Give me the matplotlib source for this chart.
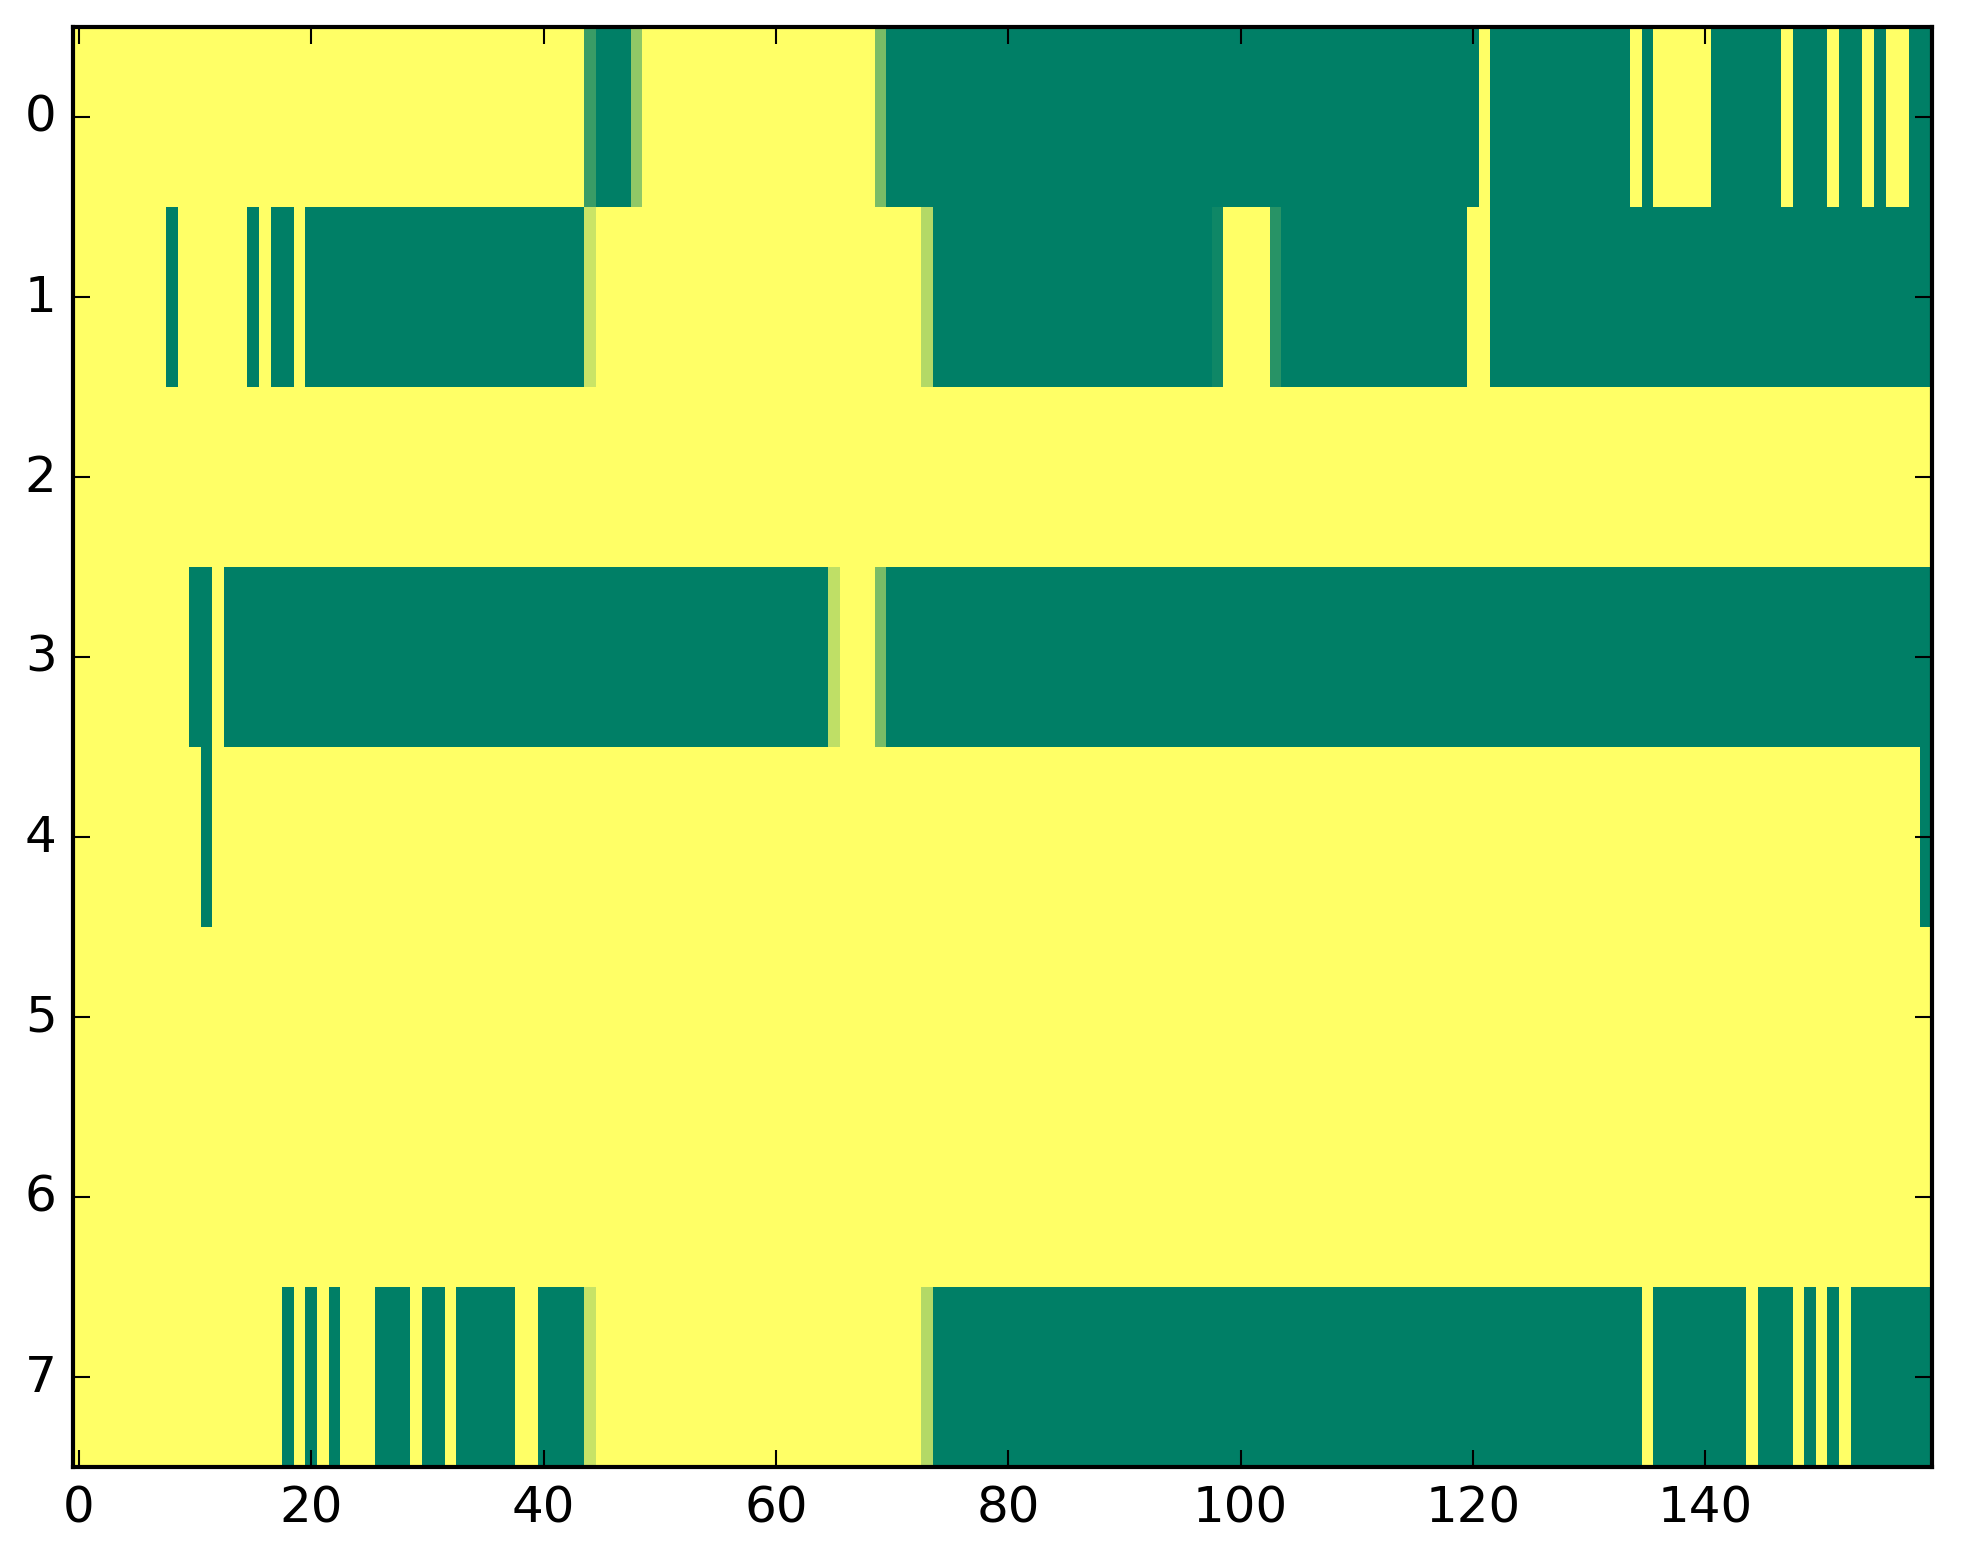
import numpy as np
import matplotlib
matplotlib.use('Agg')
import matplotlib.pyplot as plt

n_cols = 160
n_rows = 8

# each row: list of (first col, last col, value); everything else is 0
row0 = [(44, 44, 0.77), (45, 47, 1.0), (48, 48, 0.43), (69, 69, 0.52),
        (70, 120, 1.0), (122, 133, 1.0), (135, 135, 1.0), (141, 146, 1.0),
        (148, 150, 1.0), (152, 153, 1.0), (155, 155, 1.0), (158, 159, 1.0)]
row1 = [(8, 8, 1.0), (15, 15, 1.0), (17, 18, 1.0), (20, 43, 1.0),
        (44, 44, 0.21), (73, 73, 0.30), (74, 97, 1.0), (98, 98, 0.94),
        (103, 103, 0.84), (104, 119, 1.0), (122, 159, 1.0)]
row2 = []
row3 = [(10, 11, 1.0), (13, 64, 1.0), (65, 65, 0.25), (69, 69, 0.52),
        (70, 159, 1.0)]
row4 = [(11, 11, 1.0), (159, 159, 1.0)]
row5 = []
row6 = []
row7 = [(18, 18, 1.0), (20, 20, 1.0), (22, 22, 1.0), (26, 28, 1.0),
        (30, 31, 1.0), (33, 37, 1.0), (40, 43, 1.0), (44, 44, 0.22),
        (73, 73, 0.30), (74, 134, 1.0), (136, 143, 1.0), (145, 147, 1.0),
        (149, 149, 1.0), (151, 151, 1.0), (153, 159, 1.0)]
rows = [row0, row1, row2, row3, row4, row5, row6, row7]

grid = np.zeros((n_rows, n_cols))
for i, runs in enumerate(rows):
    for a, b, v in runs:
        grid[i, a:b + 1] = v

plt.style.use('classic')
plt.rcParams['font.family'] = ['DejaVu Sans']

fig = plt.figure(figsize=(1963 / 300, 1564 / 300), dpi=300, facecolor='white')
ax = fig.add_axes([0.0373, 0.0616, 0.9467, 0.9205])
ax.imshow(grid, cmap='summer_r', vmin=0, vmax=1, aspect='auto',
          interpolation='nearest')
ax.set_xticks([0, 20, 40, 60, 80, 100, 120, 140])
ax.set_yticks(range(8))
ax.tick_params(labelsize=12)

fig.savefig('out.png', dpi=300, facecolor='white')
